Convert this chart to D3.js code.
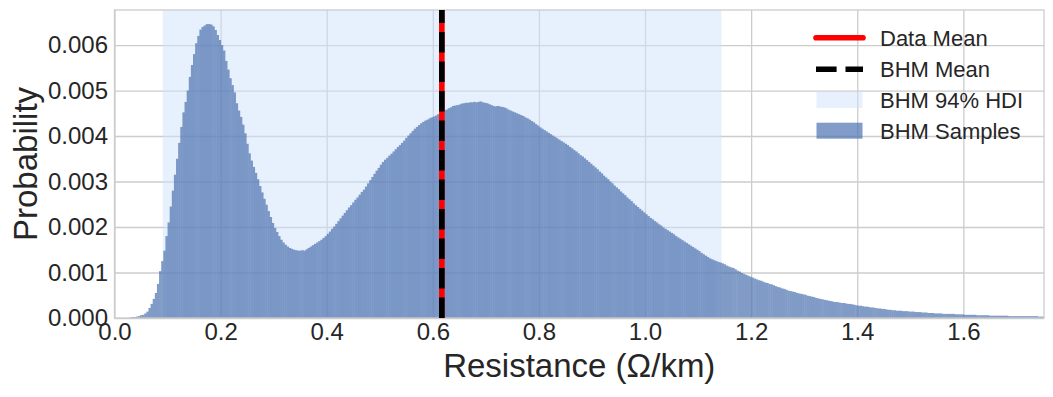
<!DOCTYPE html>
<html>
<head>
<meta charset="utf-8">
<script src="https://cdn.jsdelivr.net/npm/d3@7"></script>
<style>
body { margin: 0; background: #fff; }
svg { display: block; font-family: "Liberation Sans", Arial, sans-serif; }
</style>
</head>
<body>
<script>
// DATA
// histogram of BHM samples: bin width in Ω/km, probability per bin (x 1e-5)
var binWidth = 0.004;
var probE5 = [
  0,0,0,0,0,0,0,1,2,2,
  3,4,6,7,10,14,22,31,42,55,
  75,103,125,148,180,210,245,280,315,350,
  385,420,452,475,500,530,556,580,604,620,
  634,640,643,646,646,645,641,633,622,611,
  600,588,565,546,527,512,496,472,456,442,
  425,406,383,362,346,332,319,305,290,276,
  262,249,235,222,209,198,189,180,172,166,
  161,157,154,152,150,149,148,148,149,148,
  151,154,157,160,163,166,169,172,176,180,
  185,190,196,201,207,213,219,225,231,237,
  243,248,254,260,265,271,277,282,289,296,
  303,310,317,324,330,337,343,348,352,357,
  361,366,371,376,380,385,390,396,401,406,
  411,416,420,424,428,431,434,436,439,441,
  443,445,448,450,453,456,458,461,463,466,
  467,468,469,471,472,473,473,474,474,475,
  474,475,476,474,473,472,470,468,466,465,
  466,465,464,463,461,458,456,454,452,450,
  448,446,444,441,439,436,433,430,426,423,
  419,416,413,410,407,404,401,398,395,392,
  389,386,383,380,376,373,369,366,362,358,
  355,351,347,343,339,335,331,327,322,318,
  313,309,305,300,296,291,287,283,278,274,
  270,265,261,257,252,248,244,240,236,232,
  228,224,220,217,213,210,206,203,199,196,
  193,190,187,184,180,177,174,171,168,165,
  162,159,156,153,150,147,143,140,137,134,
  131,129,127,125,123,122,120,118,115,113,
  111,110,107,104,102,99,97,95,93,91,
  89,87,85,83,82,80,78,77,75,74,
  72,70,68,67,65,64,62,60,59,58,
  57,55,54,53,52,51,49,48,47,46,
  44,43,42,41,40,39,38,37,36,35,
  35,34,33,33,32,31,31,30,29,28,
  27,27,26,25,25,24,23,23,22,21,
  21,20,20,19,18,18,17,17,16,16,
  16,15,15,15,14,14,14,13,13,13,
  12,12,12,11,11,11,10,10,10,10,
  9,9,9,9,9,9,8,8,8,8,
  7,7,7,7,7,7,6,6,6,6,
  6,6,5,5,5,5,5,5,5,5,
  5,4,4,4,4,4,4,4,4,4,
  4,4,4,4,4,3,3,3
];
var hdiRange = [0.091, 1.144];
var dataMean = 0.617;
var bhmMean = 0.617;
var xTicks = [0, 0.2, 0.4, 0.6, 0.8, 1.0, 1.2, 1.4, 1.6];
var yTicks = [0, 0.001, 0.002, 0.003, 0.004, 0.005, 0.006];
var legendLabels = ["Data Mean", "BHM Mean", "BHM 94% HDI", "BHM Samples"];

var bins = probE5.map(function(v, i) {
  return {x0: i * binWidth, x1: (i + 1) * binWidth, p: v * 1e-5};
});

// SETUP
var width = 1053,
    height = 397,
    margin = {top: 10, right: 9, bottom: 79, left: 114.5};

var textColor = "#262626",
    gridColor = "#cccccc",
    barColor = "#4c72b0";

var svg = d3.select("body").append("svg")
    .attr("width", width)
    .attr("height", height);

svg.append("rect")
    .attr("width", width)
    .attr("height", height)
    .attr("fill", "#fff");

var x = d3.scaleLinear()
    .domain([0, 1.752])
    .range([margin.left, width - margin.right]);

var y = d3.scaleLinear()
    .domain([0, 0.00677])
    .range([height - margin.bottom, margin.top]);

var plotW = x.range()[1] - x.range()[0],
    plotH = y.range()[0] - y.range()[1];

// grid + tick labels
var xAxis = svg.append("g")
    .attr("transform", "translate(0," + y(0) + ")")
    .call(d3.axisBottom(x)
      .tickValues(xTicks)
      .tickFormat(d3.format(".1f"))
      .tickSize(-plotH)
      .tickPadding(5));

var yAxis = svg.append("g")
    .attr("transform", "translate(" + x(0) + ",0)")
    .call(d3.axisLeft(y)
      .tickValues(yTicks)
      .tickFormat(d3.format(".3f"))
      .tickSize(-plotW)
      .tickPadding(6.5));

[xAxis, yAxis].forEach(function(ax) {
  ax.select(".domain").remove();
  ax.selectAll(".tick line")
      .attr("stroke", gridColor)
      .attr("stroke-width", 1.3);
  ax.selectAll(".tick text")
      .attr("fill", textColor)
      .attr("font-size", 24)
      .attr("font-family", "Liberation Sans, Arial, sans-serif");
});

// HDI band
svg.append("rect")
    .attr("x", x(hdiRange[0]))
    .attr("y", y.range()[1])
    .attr("width", x(hdiRange[1]) - x(hdiRange[0]))
    .attr("height", plotH)
    .attr("fill", "#cfe2fc")
    .attr("fill-opacity", 0.5);

// histogram bars (group opacity so overlapping edges don't show seams)
svg.append("g")
    .attr("opacity", 0.7)
  .selectAll("rect")
  .data(bins)
  .join("rect")
    .attr("x", function(d) { return x(d.x0); })
    .attr("y", function(d) { return y(d.p); })
    .attr("width", function(d) { return Math.min(x(d.x1) + 0.5, x.range()[1]) - x(d.x0); })
    .attr("height", function(d) { return y(0) - y(d.p); })
    .attr("fill", barColor);

// frame
svg.append("rect")
    .attr("x", x.range()[0])
    .attr("y", y.range()[1])
    .attr("width", plotW)
    .attr("height", plotH)
    .attr("fill", "none")
    .attr("stroke", gridColor)
    .attr("stroke-width", 1.3);

// mean lines
svg.append("line")
    .attr("x1", x(dataMean)).attr("x2", x(dataMean))
    .attr("y1", y.range()[0]).attr("y2", y.range()[1])
    .attr("stroke", "#ff0000")
    .attr("stroke-width", 5.6);

svg.append("line")
    .attr("x1", x(bhmMean)).attr("x2", x(bhmMean))
    .attr("y1", y.range()[0]).attr("y2", y.range()[1])
    .attr("stroke", "#000")
    .attr("stroke-width", 5.6)
    .attr("stroke-dasharray", "20.6,8.9");

// axis labels
svg.append("text")
    .attr("x", (x.range()[0] + x.range()[1]) / 2)
    .attr("y", 377)
    .attr("text-anchor", "middle")
    .attr("font-size", 33)
    .attr("fill", textColor)
    .text("Resistance (Ω/km)");

svg.append("text")
    .attr("transform", "translate(37," + (y.range()[0] + y.range()[1]) / 2 + ") rotate(-90)")
    .attr("text-anchor", "middle")
    .attr("font-size", 33)
    .attr("fill", textColor)
    .text("Probability");

// LEGEND
var legend = svg.append("g").attr("transform", "translate(816,0)");
var rowY = [37.7, 69.3, 100, 130.7];

legend.append("line")
    .attr("x1", 0).attr("x2", 47)
    .attr("y1", rowY[0]).attr("y2", rowY[0])
    .attr("stroke", "#ff0000")
    .attr("stroke-width", 5.6)
    .attr("stroke-linecap", "round");

legend.append("line")
    .attr("x1", 0).attr("x2", 47)
    .attr("y1", rowY[1]).attr("y2", rowY[1])
    .attr("stroke", "#000")
    .attr("stroke-width", 5.6)
    .attr("stroke-dasharray", "20.6,8.9");

legend.append("rect")
    .attr("x", 0.5).attr("y", rowY[2] - 8)
    .attr("width", 46).attr("height", 16)
    .attr("fill", "#cfe2fc")
    .attr("fill-opacity", 0.5);

legend.append("rect")
    .attr("x", 0.5).attr("y", rowY[3] - 8)
    .attr("width", 46).attr("height", 16)
    .attr("fill", barColor)
    .attr("fill-opacity", 0.7);

legend.selectAll("text.lbl")
  .data(legendLabels)
  .join("text")
    .attr("class", "lbl")
    .attr("x", 64)
    .attr("y", function(d, i) { return rowY[i] + 8; })
    .attr("font-size", 22)
    .attr("fill", textColor)
    .text(function(d) { return d; });
</script>
</body>
</html>
